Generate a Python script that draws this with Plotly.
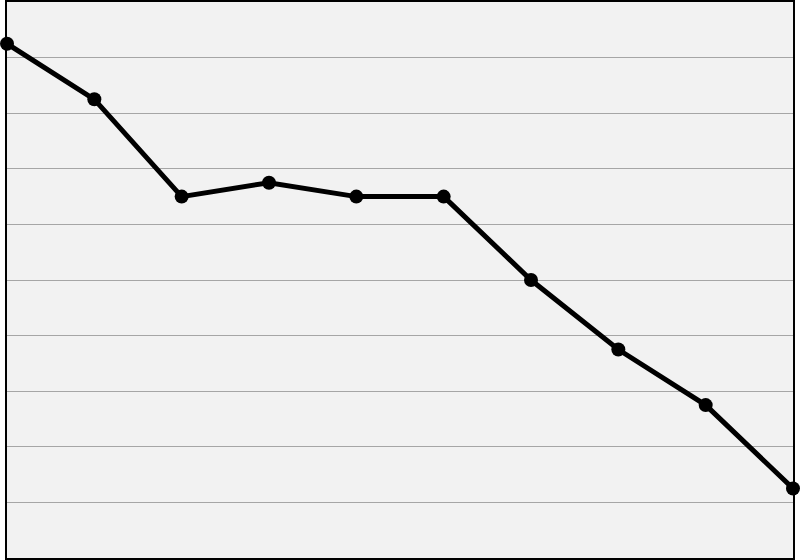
import plotly.graph_objects as go

# data
x_vals = [0, 1, 2, 3, 4, 5, 6, 7, 8, 9]
y_vals = [9.25, 8.25, 6.5, 6.75, 6.5, 6.5, 5.0, 3.75, 2.75, 1.25]

fig = go.Figure()

fig.add_trace(
    go.Scatter(
        x=x_vals,
        y=y_vals,
        mode="lines+markers",
        line=dict(color="black", width=5),
        marker=dict(color="black", size=14),
        cliponaxis=False,
        showlegend=False,
    )
)

fig.update_layout(
    width=800,
    height=560,
    margin=dict(l=7, r=7, t=0, b=2),
    paper_bgcolor="white",
    plot_bgcolor="#f2f2f2",
)
fig.update_xaxes(
    range=[0, 9],
    showgrid=False,
    zeroline=False,
    showticklabels=False,
    showline=True,
    linecolor="black",
    linewidth=2,
    mirror=True,
)
fig.update_yaxes(
    range=[0, 10],
    dtick=1,
    showgrid=True,
    gridcolor="#a6a6a6",
    gridwidth=1,
    zeroline=False,
    showticklabels=False,
    showline=True,
    linecolor="black",
    linewidth=2,
    mirror=True,
)

# drop the default page margin so the figure sits at the window's corner
fig.write_html(
    "out.html",
    config={"displayModeBar": False},
    post_script="document.body.style.margin = '0';",
)
